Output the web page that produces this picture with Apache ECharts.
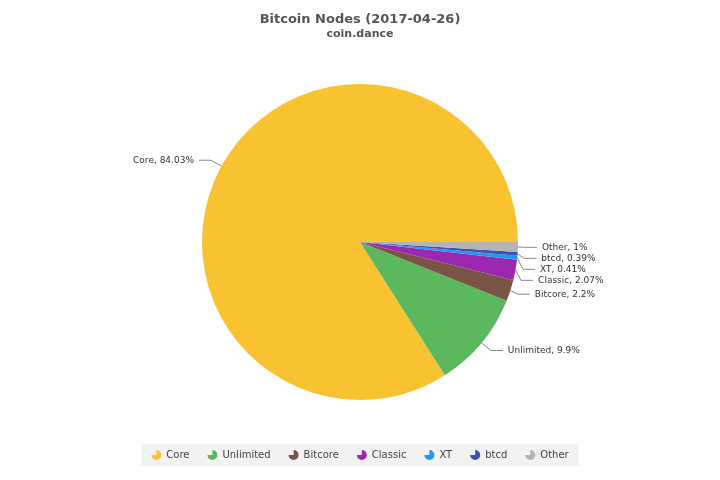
<!DOCTYPE html><html><head><meta charset="utf-8"><script src="https://cdn.jsdelivr.net/npm/echarts@6/dist/echarts.min.js"></script></head><body style="margin:0;background:#fff"><div id="c" style="width:720px;height:480px"></div><script>
const categories=["Core","Unlimited","Bitcore","Classic","XT","btcd","Other"];
const values=[84.03,9.9,2.2,2.07,0.41,0.39,1];
const colors=["#f8c230","#5cb85c","#795548","#9c27b0","#2196f3","#3f51b5","#b4b4b4"];
const ch=echarts.init(document.getElementById('c'));
ch.setOption({
 title:{text:'Bitcoin Nodes (2017-04-26)',subtext:'coin.dance',left:'center',top:8,itemGap:3,
  textStyle:{fontFamily:'DejaVu Sans',fontSize:13,fontWeight:'bold',color:'#555'},
  subtextStyle:{fontFamily:'DejaVu Sans',fontSize:11,fontWeight:'bold',color:'#555'}},
 legend:{bottom:14,left:'center',icon:'path://M50,0 A50,50 0 1,1 0,50 L50,50 Z',itemWidth:10,itemHeight:10,itemGap:18,
  backgroundColor:'#f2f2f2',padding:[6,10],textStyle:{fontFamily:'DejaVu Sans',fontSize:10,color:'#444'},data:categories},
 series:[{type:'pie',center:[360,242],radius:158,startAngle:0,clockwise:false,
  data:categories.map((n,i)=>({name:n,value:values[i],itemStyle:{color:colors[i]}})),
  label:{formatter:p=>p.name+', '+p.value+'%',fontFamily:'DejaVu Sans',fontSize:9,color:'#333'},
  labelLine:{length:12,length2:12,lineStyle:{color:'#888'}},
  labelLayout:{hideOverlap:false},avoidLabelOverlap:true}]
});
</script></body></html>
